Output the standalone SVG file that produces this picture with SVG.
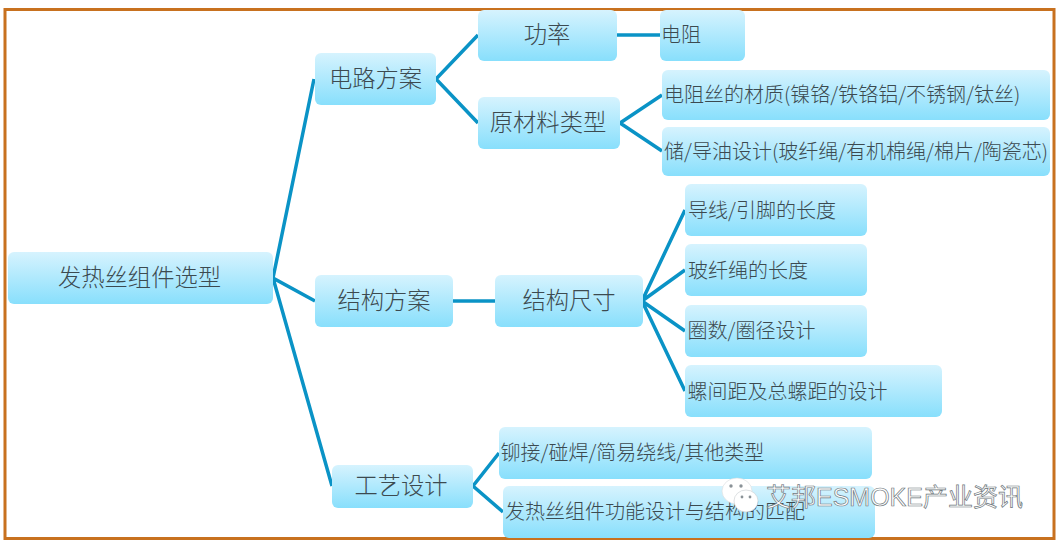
<svg xmlns="http://www.w3.org/2000/svg" width="1058" height="545" viewBox="0 0 1058 545">
<style>
text{font-family:"Noto Sans CJK SC","Noto Sans",sans-serif;fill:#3c4a50;font-weight:300}
.a{font-size:23.300px;text-anchor:middle}
.b{font-size:20px}
.box{fill:url(#g)}
.c{stroke:#0a93c6;stroke-width:3.500;fill:none}
.wm{font-size:25px;fill:#fff;stroke:#6f787d;stroke-width:.7;font-family:"Liberation Sans","Noto Sans CJK SC",sans-serif;font-weight:400}
</style>
<defs><linearGradient id="g" x1="0" y1="0" x2="0" y2="1"><stop offset="0" stop-color="#d6f3fe"/><stop offset="1" stop-color="#88dffc"/></linearGradient></defs>
<rect width="1058" height="545" fill="#fff"/>
<rect id="frame" x="5" y="9.500" width="1049" height="529" fill="none" stroke="#c8711f" stroke-width="3"/>
<g id="connectors" class="c">
<path d="M314 79L273 278L315 301M273 278L332 486"/>
<path d="M478 35L436 79L478 123"/>
<path d="M617 35H660"/>
<path d="M662 95L620 123L662 151"/>
<path d="M453 301H495"/>
<path d="M685 210L642 301L685 270M642 301L685 331M642 301L685 391"/>
<path d="M499 453L473 486L503 512"/>
</g>
<g id="n0"><rect class="box" x="8" y="252" width="265" height="52" rx="6"/><text class="a" x="139.500" y="286">发热丝组件选型</text></g>
<g id="n1"><rect class="box" x="315" y="53" width="121" height="52" rx="6"/><text class="a" x="375.500" y="87">电路方案</text></g>
<g id="n2"><rect class="box" x="315" y="275" width="138" height="52" rx="6"/><text class="a" x="384" y="309">结构方案</text></g>
<g id="n3"><rect class="box" x="332" y="465" width="141" height="43" rx="6"/><text class="a" x="401" y="494">工艺设计</text></g>
<g id="n4"><rect class="box" x="478" y="10" width="139" height="51" rx="6"/><text class="a" x="547" y="43">功率</text></g>
<g id="n5"><rect class="box" x="478" y="97" width="142" height="52" rx="6"/><text class="a" x="548" y="131">原材料类型</text></g>
<g id="n6"><rect class="box" x="660" y="10" width="85" height="51" rx="6"/><text class="b" x="661" y="42">电阻</text></g>
<g id="n7"><rect class="box" x="662" y="70" width="388" height="50" rx="6"/><text class="b" x="664" y="102">电阻丝的材质(镍铬/铁铬铝/不锈钢/钛丝)</text></g>
<g id="n8"><rect class="box" x="662" y="127" width="388" height="49" rx="6"/><text class="b" x="664" y="159">储/导油设计(玻纤绳/有机棉绳/棉片/陶瓷芯)</text></g>
<g id="n9"><rect class="box" x="495" y="275" width="148" height="52" rx="6"/><text class="a" x="569" y="309">结构尺寸</text></g>
<g id="n10"><rect class="box" x="685" y="184" width="182" height="52" rx="6"/><text class="b" x="688" y="218">导线/引脚的长度</text></g>
<g id="n11"><rect class="box" x="685" y="244" width="182" height="52" rx="6"/><text class="b" x="688" y="278">玻纤绳的长度</text></g>
<g id="n12"><rect class="box" x="685" y="305" width="182" height="52" rx="6"/><text class="b" x="687.500" y="338">圈数/圈径设计</text></g>
<g id="n13"><rect class="box" x="685" y="365" width="257" height="52" rx="6"/><text class="b" x="687.500" y="399">螺间距及总螺距的设计</text></g>
<g id="n14"><rect class="box" x="499" y="427" width="373" height="52" rx="6"/><text class="b" x="500.500" y="460">铆接/碰焊/简易绕线/其他类型</text></g>
<g id="n15"><rect class="box" x="503" y="486" width="372" height="52" rx="6"/><text class="b" x="505" y="519">发热丝组件功能设计与结构的匹配</text></g>
<g id="watermark">
<ellipse cx="737" cy="491" rx="15" ry="13" fill="#fff" stroke="#d8dcde" stroke-width=".6"/>
<ellipse cx="746" cy="501" rx="12" ry="11" fill="#fff" stroke="#c8cdd0" stroke-width=".6"/>
<circle cx="731" cy="486" r="1.700" fill="#8a9297"/><circle cx="741" cy="486" r="1.700" fill="#8a9297"/>
<circle cx="742" cy="497" r="1.400" fill="#8a9297"/><circle cx="750" cy="497" r="1.400" fill="#8a9297"/>
<text class="wm" x="766" y="506">艾邦ESMOKE产业资讯</text>
</g>
</svg>
